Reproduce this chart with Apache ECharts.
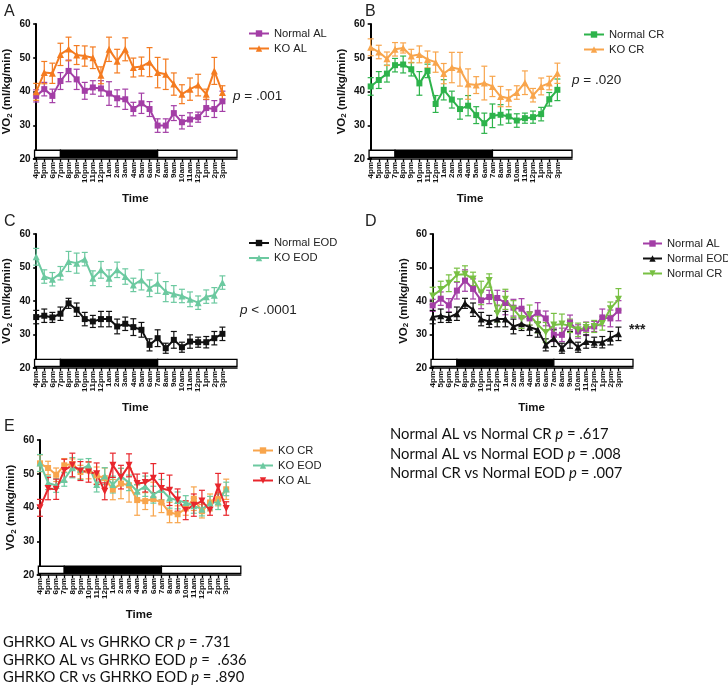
<!DOCTYPE html>
<html>
<head>
<meta charset="utf-8">
<script src="https://cdn.jsdelivr.net/npm/echarts@6/dist/echarts.min.js"></script>
<style>
  html, body { margin: 0; padding: 0; background: #fff; }
  #chart { width: 728px; height: 686px; }
</style>
</head>
<body>
<div id="chart"></div>
<script>
// time points (one per hour, 4pm -> 3pm)
const timeLabels = ['4pm', '5pm', '6pm', '7pm', '8pm', '9pm', '10pm', '11pm', '12pm',
  '1am', '2am', '3am', '4am', '5am', '6am', '7am', '8am', '9am', '10am', '11am',
  '12pm', '1pm', '2pm', '3pm']

// VO2 means and SEM, ml/kg/min
const normalAL = [38.7, 40.7, 38.7, 43.1, 46.1, 43.6, 40.2, 41.2, 40.9, 39.4, 38.0, 37.7,
  34.8, 36.5, 34.8, 29.9, 29.9, 33.6, 30.9, 31.7, 32.4, 35.1, 34.8, 37.1]
const normalALErr = [1.8, 2.0, 2.0, 2.5, 3.2, 3.0, 2.5, 2.0, 2.3, 3.5, 2.5, 3.0,
  2.0, 3.0, 2.2, 2.0, 2.0, 2.2, 2.0, 2.0, 1.5, 2.5, 2.5, 3.0]
const koAL = [39.9, 45.6, 45.4, 51.0, 52.6, 50.8, 50.5, 50.0, 44.8, 52.5, 49.0, 52.5,
  47.1, 47.4, 48.7, 45.6, 45.1, 42.2, 39.2, 40.7, 41.9, 39.2, 46.1, 39.7]
const koALErr = [2.5, 3.3, 3.0, 3.3, 3.5, 2.8, 3.0, 3.2, 2.5, 3.6, 3.5, 3.4,
  2.8, 2.8, 4.3, 4.5, 4.5, 3.3, 2.8, 3.3, 3.2, 1.5, 4.0, 2.0]
const normalCR = [41.5, 43.4, 45.3, 47.8, 48.0, 46.6, 42.4, 46.1, 36.3, 40.5, 37.6, 34.8,
  35.8, 33.0, 30.6, 32.8, 33.1, 32.6, 31.4, 32.1, 32.4, 33.3, 37.7, 40.5]
const normalCRErr = [2.6, 2.5, 2.5, 2.0, 2.5, 2.0, 3.5, 2.0, 2.5, 3.0, 2.5, 3.0,
  3.0, 2.5, 3.0, 3.5, 3.0, 2.0, 2.0, 1.5, 1.8, 2.0, 2.0, 3.2]
const koCR = [53.1, 51.7, 49.7, 52.5, 52.9, 50.5, 51.0, 49.5, 48.7, 45.3, 47.1, 46.6,
  42.2, 41.9, 42.5, 41.5, 38.5, 38.0, 39.7, 42.6, 38.9, 41.5, 42.5, 45.4]
const koCRErr = [2.5, 2.0, 2.0, 2.0, 1.5, 2.0, 2.5, 2.5, 3.0, 3.0, 4.5, 5.0,
  4.5, 2.5, 5.0, 3.0, 3.0, 2.5, 2.0, 3.5, 2.0, 2.5, 2.0, 3.0]
const normalEOD = [35.2, 35.6, 35.1, 36.2, 39.3, 37.4, 34.6, 33.9, 34.6, 34.6, 32.4, 33.2,
  32.2, 31.4, 26.9, 28.9, 25.9, 28.4, 26.2, 27.9, 27.7, 27.7, 28.9, 30.2]
const normalEODErr = [2.0, 2.0, 1.5, 2.0, 1.5, 2.0, 2.0, 1.8, 2.3, 2.3, 2.2, 2.0,
  2.5, 2.2, 1.8, 2.5, 1.5, 2.5, 1.5, 2.0, 1.5, 1.7, 2.0, 2.0]
const koEOD = [53.2, 47.3, 46.5, 48.3, 51.8, 51.3, 52.5, 46.8, 49.3, 46.8, 49.3, 47.3,
  44.8, 46.3, 43.8, 45.3, 42.8, 42.1, 41.5, 40.5, 39.5, 41.3, 41.7, 45.5]
const koEODErr = [2.5, 2.0, 2.0, 2.0, 3.0, 3.0, 2.0, 2.2, 2.5, 2.5, 2.3, 2.3,
  2.0, 3.0, 2.5, 3.0, 3.0, 2.5, 2.0, 2.2, 2.0, 2.0, 2.3, 2.0]

// light / dark bar (in hour index units): light, dark 7pm-7am, light
const phaseEdges = [-0.2, 3, 15, 24.8]
const phaseFill = ['#fff', '#000', '#fff']
const barLow = 20.5
const barHigh = 22.6

const downTri = 'path://M0,0 L10,0 L5,9 Z'

const panels = [
  { key: 'A', grid: { left: 33.5, top: 24, width: 203.5, height: 135 },
    legend: { left: 243, top: 23, itemWidth: 20 },
    lines: [
      { name: 'Normal AL', color: '#a33ea6', symbol: 'rect', size: 6, mean: normalAL, err: normalALErr },
      { name: 'KO AL', color: '#f47b20', symbol: 'triangle', size: 7, mean: koAL, err: koALErr }
    ] },
  { key: 'B', grid: { left: 368, top: 24, width: 204, height: 135 },
    legend: { left: 578, top: 24, itemWidth: 20 },
    lines: [
      { name: 'Normal CR', color: '#2db34b', symbol: 'rect', size: 6, mean: normalCR, err: normalCRErr },
      { name: 'KO CR', color: '#f8a54c', symbol: 'triangle', size: 7, mean: koCR, err: koCRErr }
    ] },
  { key: 'C', grid: { left: 33.5, top: 234, width: 203.5, height: 134 },
    legend: { left: 243, top: 232.5, itemWidth: 20 },
    lines: [
      { name: 'Normal EOD', color: '#111', symbol: 'rect', size: 6, mean: normalEOD, err: normalEODErr },
      { name: 'KO EOD', color: '#6cc9a0', symbol: 'triangle', size: 7, mean: koEOD, err: koEODErr }
    ] },
  { key: 'D', grid: { left: 430, top: 234, width: 203, height: 134 },
    legend: { left: 637, top: 233, itemWidth: 19 },
    lines: [
      { name: 'Normal AL', color: '#a33ea6', symbol: 'rect', size: 6, mean: normalAL, err: normalALErr },
      { name: 'Normal EOD', color: '#111', symbol: 'triangle', size: 7, mean: normalEOD, err: normalEODErr },
      { name: 'Normal CR', color: '#78c043', symbol: downTri, size: 7, mean: normalCR, err: normalCRErr }
    ] },
  { key: 'E', grid: { left: 37.3, top: 440, width: 203.5, height: 135 },
    legend: { left: 247, top: 440, itemWidth: 20 },
    lines: [
      { name: 'KO CR', color: '#f8a54c', symbol: 'rect', size: 6, mean: koCR, err: koCRErr },
      { name: 'KO EOD', color: '#6cc9a0', symbol: 'triangle', size: 7, mean: koEOD, err: koEODErr },
      { name: 'KO AL', color: '#e8262c', symbol: downTri, size: 7, mean: koAL, err: koALErr }
    ] }
]

const hourIdx = timeLabels.map((t, i) => i)
const axisFont = 'Liberation Sans, Arial, sans-serif'

function errorBarItem (color) {
  return function (params, api) {
    const top = api.coord([api.value(0), api.value(2)])
    const bot = api.coord([api.value(0), api.value(1)])
    const half = 3
    const style = { stroke: color, lineWidth: 1.2 }
    return {
      type: 'group',
      children: [
        { type: 'line', shape: { x1: top[0], y1: top[1], x2: bot[0], y2: bot[1] }, style },
        { type: 'line', shape: { x1: top[0] - half, y1: top[1], x2: top[0] + half, y2: top[1] }, style },
        { type: 'line', shape: { x1: bot[0] - half, y1: bot[1], x2: bot[0] + half, y2: bot[1] }, style }
      ]
    }
  }
}

function phaseItem (params, api) {
  const p0 = api.coord([api.value(0), barHigh])
  const p1 = api.coord([api.value(1), barLow])
  return {
    type: 'rect',
    shape: { x: p0[0], y: p0[1], width: p1[0] - p0[0], height: p1[1] - p0[1] },
    style: { fill: phaseFill[params.dataIndex], stroke: '#000', lineWidth: 1.3 }
  }
}

const grids = []
const xAxes = []
const yAxes = []
const legends = []
const series = []

panels.forEach((panel, gi) => {
  grids.push(panel.grid)
  xAxes.push({
    type: 'value',
    gridIndex: gi,
    min: -0.33,
    max: 24.8,
    name: 'Time',
    nameLocation: 'middle',
    nameGap: 34,
    nameTextStyle: { fontFamily: axisFont, fontWeight: 'bold', fontSize: 11.5, color: '#111' },
    splitLine: { show: false },
    axisLine: { show: true, lineStyle: { color: '#000', width: 1.6 } },
    axisTick: { show: true, customValues: hourIdx, length: 3, lineStyle: { color: '#000', width: 1.3 } },
    axisLabel: {
      customValues: hourIdx,
      formatter: v => timeLabels[v],
      rotate: 90,
      margin: 3,
      fontFamily: axisFont,
      fontWeight: 'bold',
      fontSize: 8,
      color: '#111'
    }
  })
  yAxes.push({
    type: 'value',
    gridIndex: gi,
    min: 20,
    max: 60,
    interval: 10,
    name: '{a|VO}{s|2}{a| (ml/kg/min)}',
    nameLocation: 'middle',
    nameGap: 20,
    nameTextStyle: {
      rich: {
        a: { fontFamily: axisFont, fontWeight: 'bold', fontSize: 11.5, color: '#111' },
        s: { fontFamily: axisFont, fontWeight: 'bold', fontSize: 8, color: '#111', padding: [5, 0, 0, 0] }
      }
    },
    splitLine: { show: false },
    axisLine: { show: true, lineStyle: { color: '#000', width: 2 } },
    axisTick: { show: true, length: 3, lineStyle: { color: '#000', width: 1.6 } },
    axisLabel: { margin: 3, fontFamily: axisFont, fontWeight: 'bold', fontSize: 10, color: '#111' }
  })

  series.push({
    type: 'custom',
    xAxisIndex: gi,
    yAxisIndex: gi,
    renderItem: phaseItem,
    data: phaseFill.map((f, i) => [phaseEdges[i], phaseEdges[i + 1]]),
    z: 1,
    silent: true
  })

  panel.lines.forEach(line => {
    const sname = panel.key + '|' + line.name
    series.push({
      type: 'custom',
      xAxisIndex: gi,
      yAxisIndex: gi,
      renderItem: errorBarItem(line.color),
      data: line.mean.map((m, i) => [i, m - line.err[i], m + line.err[i]]),
      z: 2,
      silent: true
    })
    series.push({
      type: 'line',
      name: sname,
      xAxisIndex: gi,
      yAxisIndex: gi,
      data: line.mean.map((m, i) => [i, m]),
      symbol: line.symbol,
      symbolSize: line.size,
      showAllSymbol: true,
      itemStyle: { color: line.color },
      lineStyle: { color: line.color, width: 2 },
      z: 3,
      animation: false
    })
  })

  legends.push({
    orient: 'vertical',
    left: panel.legend.left,
    top: panel.legend.top,
    itemWidth: panel.legend.itemWidth,
    itemHeight: 8,
    itemGap: 4,
    data: panel.lines.map(l => panel.key + '|' + l.name),
    formatter: n => n.split('|')[1],
    textStyle: { fontFamily: axisFont, fontSize: 11.2, color: '#222' },
    selectedMode: false
  })
})

function label (text, left, top, size) {
  return { type: 'text', left, top, style: { text, font: size + 'px ' + axisFont, fill: '#222' } }
}

function pText (rest, left, top) {
  return {
    type: 'text',
    left,
    top,
    style: {
      text: '{i|p}{r|' + rest + '}',
      rich: {
        i: { fontFamily: axisFont, fontStyle: 'italic', fontSize: 13.5, fill: '#222' },
        r: { fontFamily: axisFont, fontSize: 13.5, fill: '#222' }
      }
    }
  }
}

const statFont = 'Lato, "Open Sans", sans-serif'
function statLine (before, after, left, top) {
  return {
    type: 'text',
    left,
    top,
    style: {
      text: '{r|' + before + ' }{i|p}{r| ' + after + '}',
      rich: {
        r: { fontFamily: statFont, fontSize: 14.8, fill: '#111' },
        i: { fontFamily: statFont, fontStyle: 'italic', fontSize: 14.8, fill: '#111' }
      }
    }
  }
}

const chart = echarts.init(document.getElementById('chart'), null, { renderer: 'canvas' })
chart.setOption({
  animation: false,
  backgroundColor: '#fff',
  grid: grids,
  xAxis: xAxes,
  yAxis: yAxes,
  legend: legends,
  series: series,
  graphic: [
    label('A', 4, 4, 16),
    label('B', 365, 4, 16),
    label('C', 4, 214, 16),
    label('D', 365, 214, 16),
    label('E', 4, 419, 16),
    pText(' = .001', 233, 89),
    pText(' = .020', 572, 73),
    pText(' < .0001', 240, 303),
    { type: 'text', left: 629, top: 323, style: { text: '***', font: 'bold 14px ' + axisFont, fill: '#222' } },
    statLine('Normal AL vs Normal CR', '= .617', 390, 427),
    statLine('Normal AL vs Normal EOD', '= .008', 390, 447),
    statLine('Normal CR vs Normal EOD', '= .007', 390, 466),
    statLine('GHRKO AL vs GHRKO CR', '= .731', 3, 634.5),
    statLine('GHRKO AL vs GHRKO EOD', '=  .636', 3, 652.5),
    statLine('GHRKO CR vs GHRKO EOD', '= .890', 3, 669.5)
  ]
})
</script>
</body>
</html>
